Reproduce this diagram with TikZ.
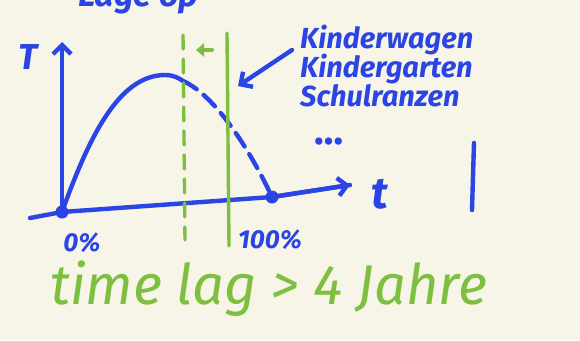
\documentclass[tikz,border=0pt]{standalone}
\usepackage{fontspec}
\setmainfont{Fira Sans}
\usetikzlibrary{arrows.meta}
\definecolor{paper}{HTML}{F7F4E8}
\definecolor{pen}{HTML}{2B44E4}
\definecolor{lime}{HTML}{7DBF3F}
\tikzset{
  bluepen/.style={draw=pen, line width=4.4pt, line cap=round, line join=round},
  greenpen/.style={draw=lime, line width=3.4pt, line cap=round},
  bluetxt/.style={text=pen, font=\bfseries\itshape, inner sep=0pt},
  greentxt/.style={text=lime, font=\itshape, inner sep=0pt},
  listtxt/.style={bluetxt, font=\fontsize{29}{29}\selectfont\bfseries\itshape, anchor=base west},
  dotmark/.style={circle, fill=pen, minimum size=13pt, inner sep=0pt},
}
\begin{document}
\begin{tikzpicture}[x=1pt, y=-1pt]
\fill[paper] (0,0) rectangle (580,340);
\useasboundingbox (0,0) rectangle (580,340);
\begin{scope}
\clip (0,0) rectangle (580,340);
\node[bluetxt, font=\fontsize{34}{34}\selectfont\bfseries\itshape, anchor=base west] (top) at (78,6) {Lage op};
\end{scope}
% axes
\coordinate (axstart) at (30,218);
\node[dotmark] (O) at (62,212) {};
\node[dotmark] (E) at (272,197) {};
\coordinate (ttip) at (350,185);
\coordinate (Ttip) at (62,42);
\draw[bluepen] (axstart) -- (O.center) -- (E.center) -- (ttip);
\draw[bluepen, -{Straight Barb[length=9pt,width=18pt]}] (O.center) -- (Ttip);
\draw[bluepen, -{Straight Barb[length=9pt,width=18pt]}] (E.center) -- (ttip);
\node[bluetxt, font=\fontsize{36}{36}\selectfont\bfseries\itshape] (T) at (28,57) {T};
\node[bluetxt, font=\fontsize{44}{44}\selectfont\bfseries\itshape] (t) at (380,194) {t};
\node[bluetxt, font=\fontsize{26}{26}\selectfont\bfseries\itshape] (p0) at (82,243) {0\%};
\node[bluetxt, font=\fontsize{26}{26}\selectfont\bfseries\itshape] (p100) at (270,240) {100\%};
% curve
\coordinate (cut) at (183,81);
\draw[bluepen] (O.center) .. controls (88,140) and (118,75) .. (165,75) .. controls (173,75) and (179,78) .. (cut);
\draw[bluepen, dash pattern=on 16pt off 9pt] (cut) .. controls (215,95) and (250,150) .. (E.center);
% green lines
\coordinate (g1a) at (183,35);
\coordinate (g1b) at (185,240);
\coordinate (g2a) at (227,33);
\coordinate (g2b) at (229,246);
\draw[greenpen, dash pattern=on 14pt off 10pt] (g1a) -- (g1b);
\draw[greenpen] (g2a) -- (g2b);
\coordinate (ga) at (212,50);
\coordinate (gb) at (196,50);
\draw[greenpen, line width=4pt, -{Triangle[length=8pt,width=13pt]}] (ga) -- (gb);
% blue pointer
\coordinate (pa) at (292,50);
\coordinate (pb) at (238,86);
\draw[bluepen, -{Straight Barb[length=9pt,width=18pt]}] (pa) -- (pb);
% list
\node[listtxt] (l1) at (300,48) {Kinderwagen};
\node[listtxt] (l2) at (300,77) {Kindergarten};
\node[listtxt] (l3) at (300,106) {Schulranzen};
\node[bluetxt, font=\fontsize{40}{40}\selectfont\bfseries, anchor=west] (dots) at (314,142) {\dots};
\coordinate (va) at (474,143);
\coordinate (vb) at (472,210);
\draw[bluepen] (va) -- (vb);
% bottom
\node[greentxt, font=\fontsize{56}{56}\selectfont\itshape, anchor=base west] (lag) at (50,304) {time lag > 4 Jahre};
\end{tikzpicture}
\end{document}
